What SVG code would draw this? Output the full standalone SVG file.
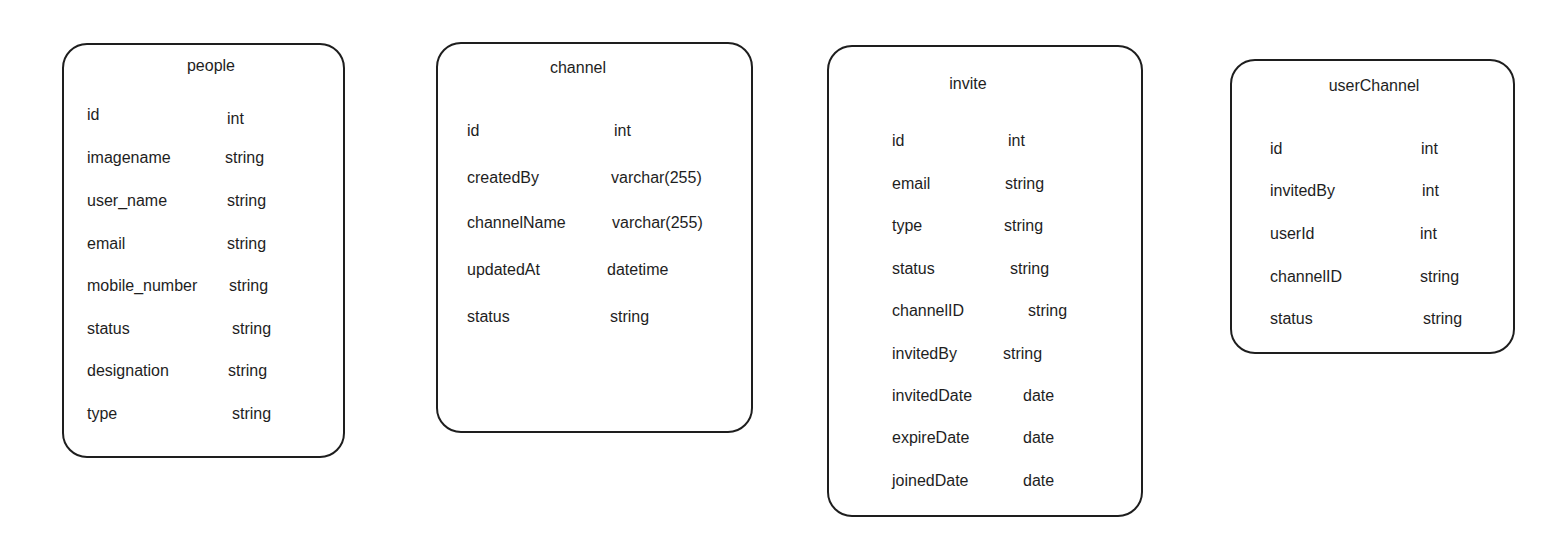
<svg xmlns="http://www.w3.org/2000/svg" width="1548" height="559" viewBox="0 0 1548 559">
<style>
.box{fill:#ffffff;stroke:#1e1e1e;stroke-width:2}
text{font-family:"Liberation Sans",Arial,sans-serif;font-size:16px;fill:#1e1e1e}
.t{text-anchor:middle}
</style>
<rect width="1548" height="559" fill="#ffffff"/>
<g id="people">
<rect class="box" x="63" y="44" width="281" height="413" rx="24"/>
<text class="t" x="211" y="71">people</text>
<text x="87" y="120">id</text><text x="227" y="124">int</text>
<text x="87" y="163">imagename</text><text x="225" y="163">string</text>
<text x="87" y="206">user_name</text><text x="227" y="206">string</text>
<text x="87" y="249">email</text><text x="227" y="249">string</text>
<text x="87" y="291">mobile_number</text><text x="229" y="291">string</text>
<text x="87" y="334">status</text><text x="232" y="334">string</text>
<text x="87" y="376">designation</text><text x="228" y="376">string</text>
<text x="87" y="419">type</text><text x="232" y="419">string</text>
</g>
<g id="channel">
<rect class="box" x="437" y="43" width="315" height="389" rx="24"/>
<text class="t" x="578" y="73">channel</text>
<text x="467" y="136">id</text><text x="614" y="136">int</text>
<text x="467" y="183">createdBy</text><text x="611" y="183">varchar(255)</text>
<text x="467" y="228">channelName</text><text x="612" y="228">varchar(255)</text>
<text x="467" y="275">updatedAt</text><text x="607" y="275">datetime</text>
<text x="467" y="322">status</text><text x="610" y="322">string</text>
</g>
<g id="invite">
<rect class="box" x="828" y="46" width="314" height="470" rx="24"/>
<text class="t" x="968" y="89">invite</text>
<text x="892" y="146">id</text><text x="1008" y="146">int</text>
<text x="892" y="189">email</text><text x="1005" y="189">string</text>
<text x="892" y="231">type</text><text x="1004" y="231">string</text>
<text x="892" y="274">status</text><text x="1010" y="274">string</text>
<text x="892" y="316">channelID</text><text x="1028" y="316">string</text>
<text x="892" y="359">invitedBy</text><text x="1003" y="359">string</text>
<text x="892" y="401">invitedDate</text><text x="1023" y="401">date</text>
<text x="892" y="443">expireDate</text><text x="1023" y="443">date</text>
<text x="892" y="486">joinedDate</text><text x="1023" y="486">date</text>
</g>
<g id="userChannel">
<rect class="box" x="1231" y="60" width="283" height="293" rx="24"/>
<text class="t" x="1374" y="91">userChannel</text>
<text x="1270" y="154">id</text><text x="1421" y="154">int</text>
<text x="1270" y="196">invitedBy</text><text x="1422" y="196">int</text>
<text x="1270" y="239">userId</text><text x="1420" y="239">int</text>
<text x="1270" y="282">channelID</text><text x="1420" y="282">string</text>
<text x="1270" y="324">status</text><text x="1423" y="324">string</text>
</g>
<g id="connectors"></g>
</svg>
